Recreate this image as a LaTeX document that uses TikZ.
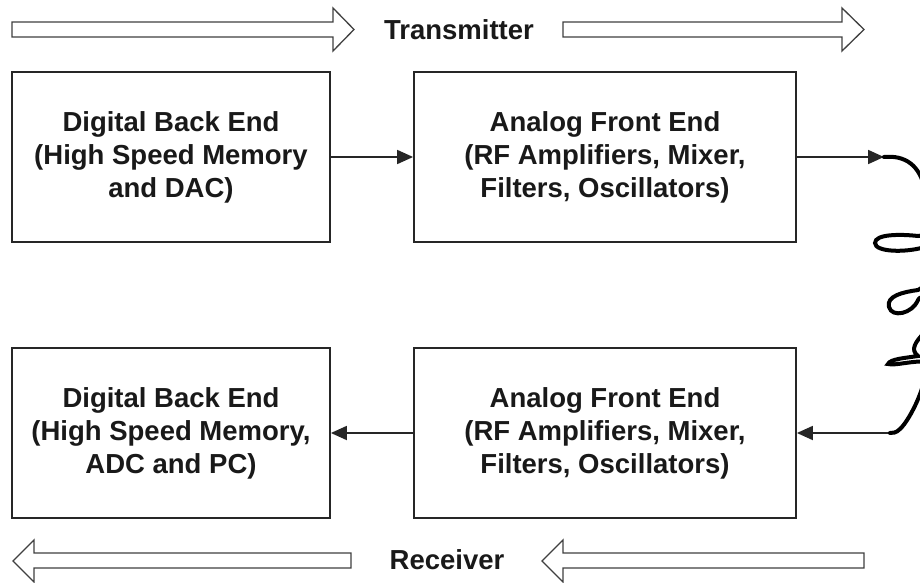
\documentclass[tikz,border=0pt]{standalone}
\usepackage{fontspec}
\setmainfont{Liberation Sans}
\usetikzlibrary{arrows.meta}
\begin{document}
\begin{tikzpicture}[x=1pt,y=-1pt,
  every node/.style={font=\fontsize{27.5}{33}\selectfont\bfseries, text=black!90},
  blk/.style={draw=black!85, line width=1.8pt, minimum height=170pt, align=center, inner sep=0pt},
  con/.style={draw=black!85, line width=1.8pt, -{Triangle[length=16pt,width=14pt]}},
  hollow/.style={draw=black!75, line width=1.3pt, fill=white, line join=miter},
  cable/.style={draw=black, line width=4pt, line cap=round}
]
\useasboundingbox (0,0) rectangle (920,583);
\fill[white] (0,0) rectangle (920,583);

% blocks
\node[blk, minimum width=318pt] (dbe1) at (171,157) {Digital Back End\\(High Speed Memory\\and DAC)};
\node[blk, minimum width=382pt] (afe1) at (605,157) {Analog Front End\\(RF Amplifiers, Mixer,\\Filters, Oscillators)};
\node[blk, minimum width=318pt] (dbe2) at (171,433) {Digital Back End\\(High Speed Memory,\\ADC and PC)};
\node[blk, minimum width=382pt] (afe2) at (605,433) {Analog Front End\\(RF Amplifiers, Mixer,\\Filters, Oscillators)};

% labels
\node (tx) at (459,30) {Transmitter};
\node (rx) at (447,560) {Receiver};

% hollow direction arrows
\draw[hollow] (12,22) -- (333,22) -- (333,8) -- (354,29.5) -- (333,51) -- (333,37) -- (12,37) -- cycle;
\draw[hollow] (563,22) -- (842,22) -- (842,8) -- (864,29.5) -- (842,51) -- (842,37) -- (563,37) -- cycle;
\draw[hollow] (351,553) -- (34,553) -- (34,540) -- (13,561) -- (34,582) -- (34,568) -- (351,568) -- cycle;
\draw[hollow] (864,553) -- (563,553) -- (563,540) -- (542,561) -- (563,582) -- (563,568) -- (864,568) -- cycle;

% cable end points
\coordinate (c1) at (884,157);
\coordinate (c2) at (890,433);

% connectors
\draw[con] (dbe1.east) -- (afe1.west);
\draw[con] (afe1.east) -- (c1);
\draw[con] (c2) -- (afe2.east);
\draw[con] (afe2.west) -- (dbe2.east);

% twisted cable
\begin{scope}
\clip (0,0) rectangle (920,583);
\draw[cable] (c1)
  .. controls (905,155) and (920,165) .. (925,190)
  .. controls (928,215) and (935,235) .. (918,236)
  .. controls (900,234) and (875,234) .. (875,243)
  .. controls (875,252) and (905,253) .. (925,247)
  .. controls (940,242) and (935,282) .. (918,290)
  .. controls (903,292) and (886,296) .. (889,307)
  .. controls (892,318) and (912,314) .. (918,300)
  .. controls (925,288) and (935,322) .. (925,332)
  .. controls (915,342) and (910,350) .. (918,356)
  .. controls (905,358) and (890,359) .. (888,364)
  .. controls (895,366) and (915,360) .. (925,362)
  .. controls (930,380) and (910,420) .. (900,429)
  .. controls (896,433) and (893,433) .. (c2);
\end{scope}
\end{tikzpicture}
\end{document}
